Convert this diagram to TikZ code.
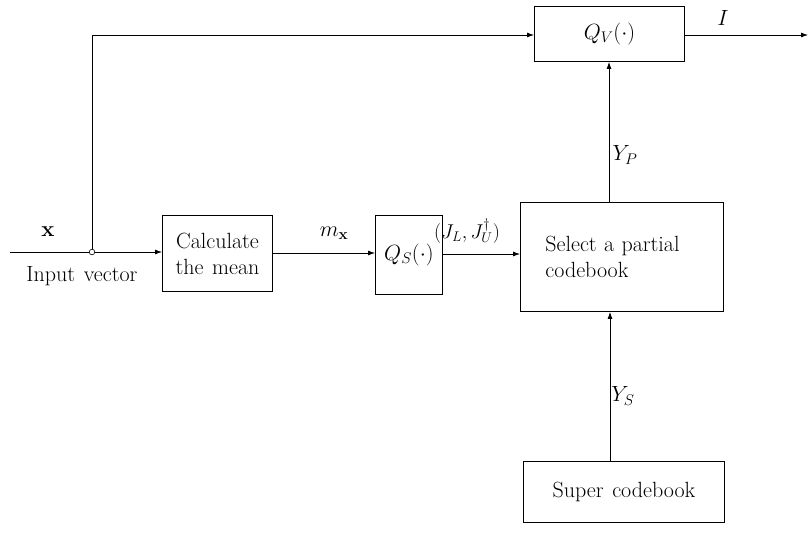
\RequirePackage{fix-cm}
\documentclass[tikz,border=0pt]{standalone}
\usepackage{fontspec}
\setmainfont{Latin Modern Roman}[WordSpace=1.3]
\usetikzlibrary{arrows.meta}
\begin{document}
\begin{tikzpicture}[x=1pt,y=-1pt,
  font=\fontsize{22}{26}\selectfont,
  blk/.style={draw,line width=0.9pt,inner sep=0pt,anchor=north west},
  conn/.style={line width=0.8pt,-{Latex[length=7pt,width=5pt]}},
  wire/.style={line width=0.8pt},
  lbl/.style={inner sep=1pt}]
\useasboundingbox (0,0) rectangle (810,535);
% blocks
\node[blk,minimum width=110pt,minimum height=76pt,align=center] (calc) at (162,215) {Calculate\\the mean};
\node[blk,minimum width=67pt,minimum height=79pt] (qs) at (375,215) {$Q_S(\cdot)$};
\node[blk,minimum width=203pt,minimum height=109pt,align=left,text width=153pt] (sel) at (520,202) {Select a partial\\codebook};
\node[blk,minimum width=150pt,minimum height=55pt] (qv) at (534,6) {$Q_V(\cdot)$};
\node[blk,minimum width=201pt,minimum height=61pt] (sup) at (523,461) {Super codebook};
% coordinates
\coordinate (in) at (10,252);
\coordinate (j) at (92,252);
\coordinate (jt) at (92,35);
\coordinate (out) at (808,35);
% connectors
\draw[wire] (in) -- (j);
\draw[conn] (j) -- (calc.west |- j);
\draw[wire] (j) -- (jt);
\draw[conn] (jt) -- (qv.west |- jt);
\draw[conn] (calc.east |- 0,253) -- (qs.west |- 0,253);
\draw[conn] (qs.east |- 0,254) -- (sel.west |- 0,254);
\draw[conn] (sel.north -| 609,0) -- (qv.south -| 609,0);
\draw[conn] (sup.north -| 610,0) -- (sel.south -| 610,0);
\draw[conn] (qv.east |- out) -- (out);
\draw[line width=0.6pt,fill=white] (j) circle (2.8pt);
% labels
\node[lbl] (lx) at (48,232) {$\mathbf{x}$};
\node[lbl] (lin) at (82,276) {Input vector};
\node[lbl] (lm) at (334,233) {$m_{\mathbf{x}}$};
\node[lbl,font=\fontsize{20}{24}\selectfont] (lj) at (467,231) {$(J_L,J_U^{\dagger})$};
\node[lbl] (lyp) at (625,155) {$Y_P$};
\node[lbl] (lys) at (623,396) {$Y_S$};
\node[lbl] (li) at (723,18) {$I$};
\end{tikzpicture}
\end{document}
